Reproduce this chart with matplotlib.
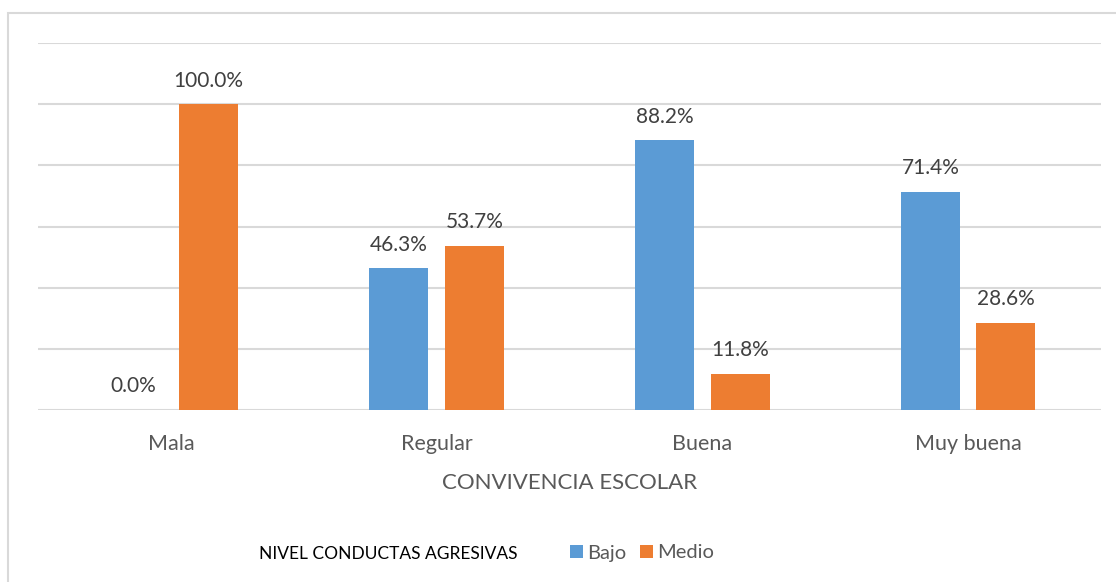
import matplotlib.pyplot as plt
from matplotlib.patches import Rectangle
import numpy as np

categorias = ['Mala', 'Regular', 'Buena', 'Muy buena']
bajo = [0.0, 46.3, 88.2, 71.4]
medio = [100.0, 53.7, 11.8, 28.6]
series = ['Bajo', 'Medio']

azul = '#5B9BD5'
naranja = '#ED7D31'
plt.rcParams['font.family'] = ['Lato', 'DejaVu Sans']

fig = plt.figure(figsize=(11.16, 5.82), dpi=100)
# marco gris del grafico
fig.patches.append(Rectangle((8/1116, -0.1), 1.2, 1 - 13/582 + 0.1,
                             transform=fig.transFigure, fill=False,
                             edgecolor='#d9d9d9', linewidth=1.5))

ax = fig.add_axes([38/1116, 1 - 410/582, (1101 - 38)/1116, (410 - 43)/582])
x = np.arange(len(categorias))
w = 0.222
off = 0.142
b1 = ax.bar(x - off, bajo, w, color=azul, label=series[0])
b2 = ax.bar(x + off, medio, w, color=naranja, label=series[1])

for bars, vals in ((b1, bajo), (b2, medio)):
    for b, v in zip(bars, vals):
        ax.annotate(f'{v:.1f}%', (b.get_x() + b.get_width()/2, v),
                    xytext=(0, 17), textcoords='offset points',
                    ha='center', va='center', fontsize=15, color='#404040')

ax.set_xlim(-0.5, 3.5)
ax.set_ylim(0, 120)
ax.set_yticks(np.arange(0, 121, 20))
ax.yaxis.grid(True, color='#d9d9d9', linewidth=1.5)
ax.set_axisbelow(True)
ax.tick_params(axis='y', left=False, labelleft=False)
ax.tick_params(axis='x', length=0, pad=17, labelsize=15.5, labelcolor='#595959')
ax.set_xticks(x)
ax.set_xticklabels(categorias)
for s in ax.spines.values():
    s.set_visible(False)
ax.set_xlabel('CONVIVENCIA ESCOLAR', fontsize=16, color='#595959', labelpad=14)

fig.text(259/1116, 1 - 554/582, 'NIVEL CONDUCTAS AGRESIVAS', fontsize=12.5,
         color='black', va='center', ha='left')
fig.legend(handles=[b1, b2], labels=series, loc='center left',
           bbox_to_anchor=(570/1116, 1 - 553/582), ncol=2, frameon=False,
           borderaxespad=0, borderpad=0,
           fontsize=14.5, labelcolor='#595959', handlelength=0.65, handleheight=0.65,
           handletextpad=0.2, columnspacing=0.7)

fig.savefig('out.png', dpi=100)
